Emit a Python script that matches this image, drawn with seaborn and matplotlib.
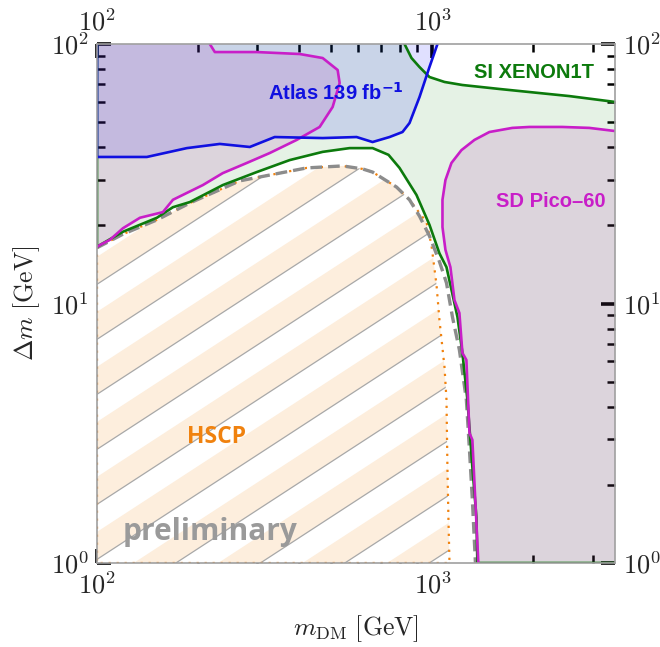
import numpy as np
import matplotlib
matplotlib.use("Agg")
import matplotlib.pyplot as plt
import seaborn as sns
from matplotlib.patches import Polygon
from matplotlib.ticker import FuncFormatter, LogLocator, NullFormatter

# ---- exclusion boundaries (m_DM [GeV], Delta m [GeV]) ----
# ATLAS 139 fb^-1
atlas_mdm = [100, 140.8, 185.3, 232.3, 285.4, 338.6, 470.6, 594, 662.8, 744.7, 814.1, 854.2, 915, 979.5, 1035]
atlas_dm = [36.7, 36.7, 39.7, 41.2, 40.1, 43.8, 43.4, 43.8, 41.9, 43.8, 45.8, 49.6, 62.5, 81.5, 100]

# SI XENON1T, upper branch
xenon_up_mdm = [825.4, 865.9, 914.9, 979.5, 1086, 1228, 1582, 1944, 2557, 3500]
xenon_up_dm = [100, 88.3, 81.5, 74.6, 71.4, 69.5, 67.1, 65.3, 63.0, 59.8]
# SI XENON1T, lower branch
xenon_lo_mdm = [100, 102, 119.5, 150.9, 168.4, 189.2, 237.1, 299.4, 375.3, 470.6, 566, 663,
                739.6, 797.6, 896, 979.5, 1049, 1101, 1139, 1187, 1228, 1271, 1315, 1352, 1361]
xenon_lo_dm = [16.5, 16.8, 18.9, 21.4, 23.5, 24.6, 28.6, 32.1, 35.7, 38.4, 39.7, 39.7,
               37.4, 33.3, 26.2, 20.1, 15.6, 13.8, 11.3, 8.87, 6.45, 4.25, 2.34, 1.50, 1.0]

# SD Pico-60, low-mass lobe
pico_l_mdm = [216.9, 224.5, 299.4, 402, 470.6, 521.6, 528.8, 504, 461, 393.8, 327.2, 279.6,
              237.1, 206.8, 168.4, 157.2, 134.3, 119.5, 109.3, 102, 100]
pico_l_dm = [100, 93.1, 93.1, 91.5, 88.3, 79.4, 70.7, 57.2, 47.9, 42.7, 38.0, 34.8,
             31.8, 28.6, 25.1, 22.5, 21.4, 19.5, 17.6, 16.8, 16.5]
# SD Pico-60, high-mass lobe
pico_r_mdm = [3500, 2934, 2437, 1944, 1730, 1478, 1334, 1220, 1139, 1093, 1071, 1071, 1093,
              1131, 1163, 1203, 1228, 1262, 1289, 1315, 1370]
pico_r_dm = [46.2, 47.5, 47.9, 47.9, 47.5, 45.8, 42.7, 39.0, 34.8, 29.9, 25.1, 19.7, 16.1,
             13.8, 10.3, 9.19, 6.45, 6.06, 3.17, 2.98, 1.0]

# HSCP: outer (dashed) contour and excluded region (dotted)
hscp_out_mdm = [100, 119.5, 150.9, 189.2, 266.6, 421.7, 539.8, 619, 662.8, 781.4, 854.2, 914.9,
                979.5, 1049, 1101, 1147, 1203, 1262, 1289, 1315, 1343]
hscp_out_dm = [16.4, 18.5, 21.0, 24.4, 29.7, 33.3, 33.9, 33.0, 32.1, 28.1, 25.1, 21.7,
               18.2, 14.5, 12.0, 8.87, 6.62, 4.25, 2.73, 1.75, 1.0]
hscp_mdm = [100, 119.5, 150.9, 189.2, 266.6, 421.7, 539.8, 619, 662.8, 781.4, 854.2, 914.9,
            959.7, 993, 1028, 1049, 1086, 1101, 1108, 1116, 1124]
hscp_dm = [16.4, 18.5, 21.0, 24.4, 29.7, 33.3, 33.9, 33.0, 32.1, 28.1, 25.1, 22.3,
           20.6, 16.8, 11.8, 8.64, 5.69, 4.25, 2.34, 1.46, 1.0]

XMIN, XMAX, YMIN, YMAX = 100, 3500, 1, 100

GREEN = "#0c7a0c"
BLUE = "#1010e0"
MAGENTA = "#c81ec8"
ORANGE = "#f0820f"

sns.set_theme(style="ticks")
plt.rcParams["font.family"] = ["Liberation Sans", "DejaVu Sans"]
plt.rcParams["mathtext.fontset"] = "cm"

fig = plt.figure(figsize=(6.6, 6.47), dpi=100)
ax = fig.add_axes([97 / 660, 84 / 647, 518 / 660, 519 / 647])
ax.set_xscale("log")
ax.set_yscale("log")
ax.set_xlim(XMIN, XMAX)
ax.set_ylim(YMIN, YMAX)


def region(xs, ys, color, alpha, z):
    poly = Polygon(np.column_stack([xs, ys]), closed=True, facecolor=color,
                   alpha=alpha, edgecolor="none", zorder=z)
    ax.add_patch(poly)
    return poly


# XENON1T excluded region: everything outside the two branches
gx = [XMIN] + xenon_up_mdm + [XMAX, XMAX] + xenon_lo_mdm[::-1]
gy = [YMAX] + xenon_up_dm + [xenon_up_dm[-1], YMIN] + xenon_lo_dm[::-1]
region(gx, gy, "#008000", 0.10, 1)

# ATLAS excluded region (above the curve)
region(atlas_mdm + [XMIN], atlas_dm + [YMAX], "#0000ff", 0.12, 2)

# Pico-60 excluded regions
region(pico_l_mdm + [XMIN], pico_l_dm + [YMAX], "#a000a0", 0.12, 3)
region(pico_r_mdm + [XMAX], pico_r_dm + [YMIN], "#a000a0", 0.12, 3)

# HSCP excluded region with diagonal hatching
hscp_patch = region(hscp_mdm + [XMIN], hscp_dm + [YMIN], "#fdeedd", 1.0, 4)
slope, period, band = 0.65, 0.106, 0.053
for c in np.arange(-1.0, 1.2, period):
    white = Polygon([(0, c), (1, c + slope), (1, c + slope + band), (0, c + band)],
                    closed=True, facecolor="white", edgecolor="none",
                    transform=ax.transAxes, zorder=4.5)
    ax.add_patch(white)
    white.set_clip_path(hscp_patch)
    ln, = ax.plot([0, 1], [c + band, c + band + slope], color="#a8a8a8", lw=0.9,
                  transform=ax.transAxes, zorder=4.6)
    ln.set_clip_path(hscp_patch)

# boundary curves
sns.lineplot(x=hscp_mdm + [XMIN, XMIN], y=hscp_dm + [YMIN, hscp_dm[0]], sort=False,
             estimator=None, color=ORANGE, lw=1.6, linestyle=(0, (1, 2.6)), ax=ax, zorder=6)
sns.lineplot(x=hscp_out_mdm, y=hscp_out_dm, sort=False, estimator=None, color="#8c8c8c",
             lw=2.4, linestyle=(0, (3.5, 1.8)), ax=ax, zorder=6)
sns.lineplot(x=[XMIN] + xenon_lo_mdm + [XMAX], y=[YMAX] + xenon_lo_dm + [YMIN], sort=False,
             estimator=None, color=GREEN, lw=1.9, ax=ax, zorder=7)
sns.lineplot(x=xenon_up_mdm, y=xenon_up_dm, sort=False, estimator=None, color=GREEN,
             lw=1.9, ax=ax, zorder=7)
sns.lineplot(x=pico_l_mdm, y=pico_l_dm, sort=False, estimator=None, color=MAGENTA,
             lw=1.9, ax=ax, zorder=7)
sns.lineplot(x=pico_r_mdm, y=pico_r_dm, sort=False, estimator=None, color=MAGENTA,
             lw=1.9, ax=ax, zorder=7)
sns.lineplot(x=[XMIN] + atlas_mdm, y=[YMAX] + atlas_dm, sort=False, estimator=None,
             color=BLUE, lw=1.9, ax=ax, zorder=8)

# labels inside the frame
ax.text(0.461, 0.906, r"Atlas 139 fb$^{\mathbf{-1}}$", transform=ax.transAxes, color=BLUE,
        fontsize=14.5, fontweight="bold", ha="center", va="center",
        math_fontfamily="dejavusans", zorder=9)
ax.text(0.844, 0.946, "SI XENON1T", transform=ax.transAxes, color=GREEN,
        fontsize=14.5, fontweight="bold", ha="center", va="center", zorder=9)
ax.text(0.876, 0.697, "SD Pico\u201360", transform=ax.transAxes, color=MAGENTA,
        fontsize=14.5, fontweight="bold", ha="center", va="center", zorder=9)
ax.text(0.230, 0.243, "HSCP", transform=ax.transAxes, color=ORANGE, family="Open Sans",
        fontsize=16.5, fontweight="bold", ha="center", va="center", zorder=9)
ax.text(0.218, 0.060, "preliminary", transform=ax.transAxes, color="#9a9a9a",
        family="Open Sans", fontsize=21.5, fontweight="bold", ha="center", va="center", zorder=9)

# axes styling
for s in ax.spines.values():
    s.set_color("#a0a0a0")
    s.set_linewidth(1.2)
    s.set_zorder(10)

dec = FuncFormatter(lambda v, _: r"$10^{%d}$" % int(round(np.log10(v))))
for axis in (ax.xaxis, ax.yaxis):
    axis.set_major_locator(LogLocator(base=10, numticks=10))
    axis.set_minor_locator(LogLocator(base=10, subs=np.arange(2, 10), numticks=20))
    axis.set_major_formatter(dec)
    axis.set_minor_formatter(NullFormatter())

ax.tick_params(which="both", direction="in", top=True, right=True, labeltop=True,
               labelright=True, color="black", zorder=11)
ax.tick_params(which="major", length=10, width=2.6, labelsize=19, pad=6)
ax.tick_params(which="minor", length=6, width=1.8)

ax.set_xlabel(r"$m_{\rm DM}\ [\rm GeV]$", fontsize=18.5, labelpad=11)
ax.set_ylabel(r"$\Delta m\ [\rm GeV]$", fontsize=18.5, labelpad=6)

fig.savefig("out.png", dpi=100)
